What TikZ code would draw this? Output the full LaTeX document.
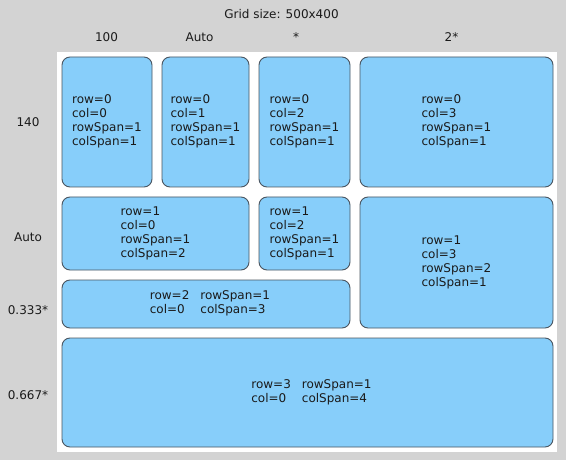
\documentclass[tikz,border=0pt]{standalone}
\usepackage{fontspec}
\setmainfont{DejaVu Sans}
\definecolor{bggray}{HTML}{D3D3D3}
\definecolor{boxblue}{HTML}{87CEFA}
\definecolor{boxline}{HTML}{4A5560}
\definecolor{txt}{HTML}{1A1A1A}
\begin{document}
\begin{tikzpicture}[x=1pt,y=-1pt,
  every node/.style={font=\fontsize{12pt}{14pt}\selectfont, text=txt},
  cell/.style={draw=boxline, line width=0.9pt, fill=boxblue, rounded corners=8pt,
    inner sep=0pt, anchor=center},
  hdr/.style={inner sep=0pt, anchor=center},
  panel/.style={fill=white, draw=none}]
\useasboundingbox (0,0) rectangle (566,460);
\fill[bggray] (0,0) rectangle (566,460);
\node[panel, minimum width=500pt, minimum height=400pt, inner sep=0pt] (grid) at (307,252) {};
% header
\node[hdr] (title) at (281.5,14) {Grid size: 500x400};
\node[hdr] (c0) at (106.5,37) {100};
\node[hdr] (c1) at (199.5,37) {Auto};
\node[hdr] (c2) at (296,37) {*};
\node[hdr] (c3) at (451.5,37) {2*};
\node[hdr] (r0) at (28,122) {140};
\node[hdr] (r1) at (28,237) {Auto};
\node[hdr] (r2) at (28,310) {0.333*};
\node[hdr] (r3) at (28,395) {0.667*};
% cells
\node[cell, minimum width=90pt, minimum height=130pt] (b00) at (107,122)
  {\begin{tabular}{@{}l@{}}row=0\\col=0\\rowSpan=1\\colSpan=1\end{tabular}};
\node[cell, minimum width=87pt, minimum height=130pt] (b01) at (205.5,122)
  {\begin{tabular}{@{}l@{}}row=0\\col=1\\rowSpan=1\\colSpan=1\end{tabular}};
\node[cell, minimum width=91pt, minimum height=130pt] (b02) at (304.5,122)
  {\begin{tabular}{@{}l@{}}row=0\\col=2\\rowSpan=1\\colSpan=1\end{tabular}};
\node[cell, minimum width=193pt, minimum height=130pt] (b03) at (456.5,122)
  {\begin{tabular}{@{}l@{}}row=0\\col=3\\rowSpan=1\\colSpan=1\end{tabular}};
\node[cell, minimum width=187pt, minimum height=73pt] (b10) at (155.5,233.5)
  {\begin{tabular}{@{}l@{}}row=1\\col=0\\rowSpan=1\\colSpan=2\end{tabular}};
\node[cell, minimum width=91pt, minimum height=73pt] (b12) at (304.5,233.5)
  {\begin{tabular}{@{}l@{}}row=1\\col=2\\rowSpan=1\\colSpan=1\end{tabular}};
\node[cell, minimum width=193pt, minimum height=131pt] (b13) at (456.5,262.5)
  {\begin{tabular}{@{}l@{}}row=1\\col=3\\rowSpan=2\\colSpan=1\end{tabular}};
\node[cell, minimum width=288pt, minimum height=48pt] (b20) at (206,304) {};
\node[anchor=center, inner sep=0pt, xshift=4pt] (t20) at (b20.center)
  {\begin{tabular}{@{}l@{\hspace{11pt}}l@{}}row=2&rowSpan=1\\col=0&colSpan=3\end{tabular}};
\node[cell, minimum width=491pt, minimum height=109pt] (b30) at (307.5,392.5) {};
\node[anchor=center, inner sep=0pt, xshift=4pt] (t30) at (b30.center)
  {\begin{tabular}{@{}l@{\hspace{11pt}}l@{}}row=3&rowSpan=1\\col=0&colSpan=4\end{tabular}};
\end{tikzpicture}
\end{document}
